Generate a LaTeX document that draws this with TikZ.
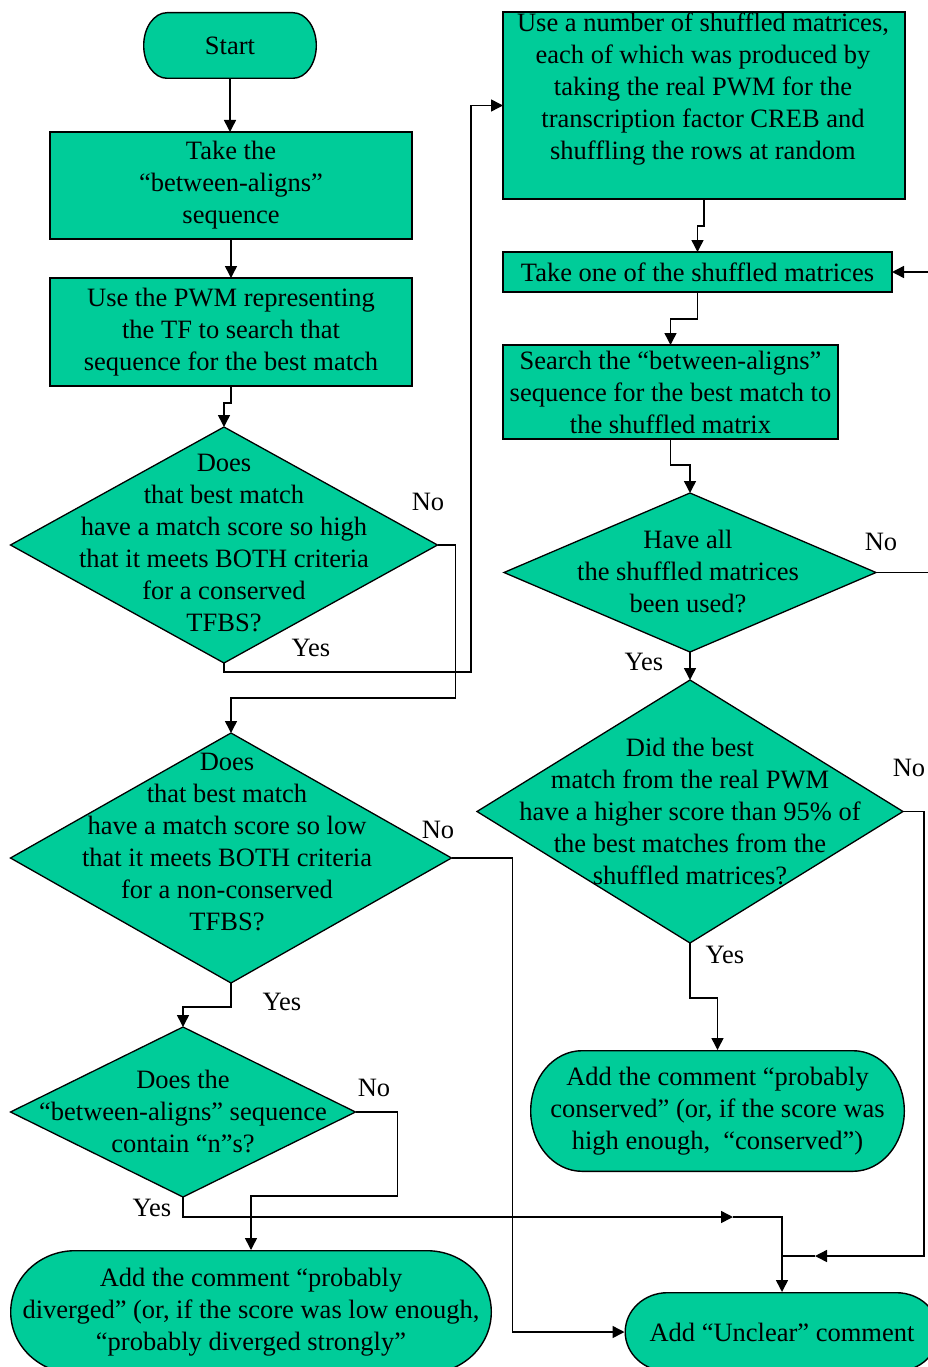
\documentclass[tikz,border=0pt]{standalone}
\usepackage{fontspec}
\setmainfont{Liberation Serif}
\usetikzlibrary{shapes.geometric,arrows.meta,calc}
\definecolor{tealc}{RGB}{0,204,153}
\newcommand\fs{\fontsize{26.5}{32}\selectfont}
\newcommand\stadium[2]{%
  \draw[line width=1.4pt, fill=tealc]
    ($(path picture bounding box.north west)+(#1,0.7)$) --
    ($(path picture bounding box.north east)+(-#1,0.7)$)
    arc[start angle=90, end angle=-90, x radius={(#1-0.7)*1pt}, y radius={(#2-0.7)*1pt}]
    -- ($(path picture bounding box.south west)+(#1,-0.7)$)
    arc[start angle=270, end angle=90, x radius={(#1-0.7)*1pt}, y radius={(#2-0.7)*1pt}]
    -- cycle;}
\begin{document}
\begin{tikzpicture}[x=1pt,y=-1pt,
  box/.style={rectangle, draw, line width=1.4pt, fill=tealc, inner sep=0pt, outer sep=0pt, align=center, font=\fs},
  dia/.style={diamond, draw, line width=1.3pt, fill=tealc, inner sep=0pt, outer sep=0pt},
  txt/.style={align=center, font=\fs, inner sep=0pt},
  lbl/.style={font=\fs, inner sep=0pt},
  conn/.style={line width=1.5pt},
  arr/.style={conn, -{Triangle[length=12pt,width=12pt]}},
  term/.style 2 args={rectangle, draw=none, inner sep=0pt, outer sep=0pt, align=center, font=\fs, path picture={\stadium{#1}{#2}}}
]
\useasboundingbox (0,0) rectangle (928,1367);
\clip (0,0) rectangle (928,1367);

% left column
\node[term={24}{33.5}, minimum width=174pt, minimum height=67pt] (start) at (230,45.5) {Start};
\node[box, minimum width=362pt, minimum height=107pt] (b1) at (231,185.5) {Take the\\“between-aligns”\\sequence};
\node[box, minimum width=362pt, minimum height=108pt] (b2) at (231,332) {Use the PWM representing\\the TF to search that\\sequence for the best match};
\node[dia, minimum width=427pt, minimum height=236pt] (d1) at (224,545) {};
\node[txt] (d1t) at (224,543) {Does\\that best match\\have a match score so high\\that it meets BOTH criteria\\for a conserved\\TFBS?};
\node[dia, minimum width=441pt, minimum height=250pt] (d2) at (231,858) {};
\node[txt] (d2t) at (227,842) {Does\\that best match\\have a match score so low\\that it meets BOTH criteria\\for a non-conserved\\TFBS?};
\node[dia, minimum width=345pt, minimum height=170pt] (d5) at (183,1112) {};
\node[txt] (d5t) at (183,1111) {Does the\\“between-aligns” sequence\\contain “n”s?};
\node[term={65}{62}, minimum width=482pt, minimum height=124pt] (dv) at (251,1312) {Add the comment “probably\\diverged” (or, if the score was low enough,\\“probably diverged strongly”};

% right column
\node[box, minimum width=402pt, minimum height=187pt] (b3) at (704,105.5) {};
\node[txt] (b3t) at (703,89) {Use a number of shuffled matrices,\\each of which was produced by\\taking the real PWM for the\\transcription factor CREB and\\shuffling the rows at random};
\node[box, minimum width=389pt, minimum height=40pt] (b4) at (697.5,272) {Take one of the shuffled matrices};
\node[box, minimum width=335pt, minimum height=94pt] (b5) at (670.5,392) {Search the “between-aligns”\\sequence for the best match to\\the shuffled matrix};
\node[dia, minimum width=372pt, minimum height=159pt] (d3) at (690,572.5) {};
\node[txt] (d3t) at (688,571) {Have all\\the shuffled matrices\\been used?};
\node[dia, minimum width=426pt, minimum height=263pt] (d4) at (690,811.5) {};
\node[txt] (d4t) at (690,811.5) {Did the best\\match from the real PWM\\have a higher score than 95\% of\\the best matches from the\\shuffled matrices?};
\node[term={52}{61}, minimum width=375pt, minimum height=122pt] (cons) at (717.5,1111) {Add the comment “probably\\conserved” (or, if the score was\\high enough,~ “conserved”)};
\node[term={43}{40}, minimum width=315pt, minimum height=80pt] (un) at (782,1332) {Add “Unclear” comment};

% labels
\node[lbl] (l1n) at (428,502) {No};
\node[lbl] (l1y) at (311,648) {Yes};
\node[lbl] (l2n) at (438,830) {No};
\node[lbl] (l2y) at (282,1002) {Yes};
\node[lbl] (l5n) at (374,1088) {No};
\node[lbl] (l5y) at (152,1208) {Yes};
\node[lbl] (l3n) at (881,542) {No};
\node[lbl] (l3y) at (644,662) {Yes};
\node[lbl] (l4n) at (909,768) {No};
\node[lbl] (l4y) at (725,955) {Yes};

% connectors
\draw[arr] (start.south) -- (start.south |- b1.north);
\draw[arr] (b1.south) -- (b2.north);
\draw[arr] (b2.south) -- ++(0,17) -| (d1.north);
\draw[arr] (d1.east) -- ++(18,0) -- ++(0,153) -| (d2.north);
\draw[arr] (d1.south) -- ++(0,9) -- ++(247,0) |- (b3.west);
\draw[arr] (b3.south) -- ++(0,27) -| (b4.north);
\draw[arr] (b4.south) -- ++(0,27) -| (b5.north);
\draw[arr] (b5.south) -- ++(0,26) -| (d3.north);
\draw[arr] (d3.east) -- ++(65,0) |- (b4.east);
\draw[arr] (d3.south) -- (d4.north);
\draw[arr] (d4.south) -- ++(0,55) -| (cons.north);
\coordinate (m2) at (815,1256);
\draw[arr] (d4.east) -- ++(21,0) |- (m2);
\draw[conn] (m2) -- (un.north |- m2);
\draw[arr] (d2.east) -- ++(61,0) |- (un.west);
\draw[arr] (d2.south) -- ++(0,24) -| (d5.north);
\draw[arr] (d5.east) -- ++(42,0) -- ++(0,84) -| (dv.north);
\coordinate (m1) at (733,1217);
\draw[arr] (d5.south) |- (m1);
\draw[arr] (m1) -| (un.north);
\end{tikzpicture}
\end{document}
